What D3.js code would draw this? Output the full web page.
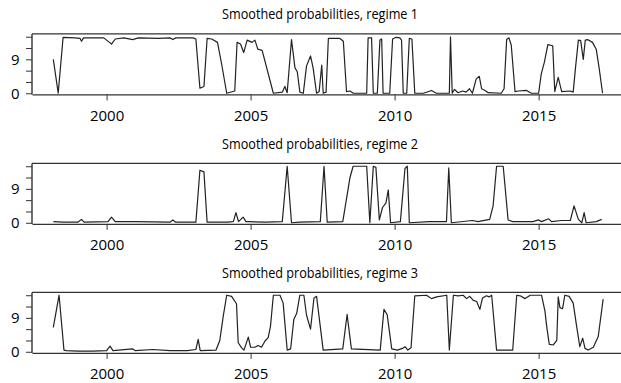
<!DOCTYPE html>
<html><head><meta charset="utf-8">
<script src="https://cdn.jsdelivr.net/npm/d3@7"></script>
<style>
html,body{margin:0;padding:0;background:#fff;}
svg{display:block;font-family:"Open Sans","Noto Sans",sans-serif;}
</style></head>
<body>
<svg id="chart" width="621" height="383"></svg>
<script>
// ---- data (decimal years, smoothed probabilities) ----
const titles = ["Smoothed probabilities, regime 1","Smoothed probabilities, regime 2","Smoothed probabilities, regime 3"];
const xTicks = [2000, 2005, 2010, 2015];
const yTicks = [0, 0.2, 0.4, 0.6, 0.8, 1.0];
const yTickLabels = ["0", "", "", "9", "", ""];

const dates1 = [1998.15,1998.32,1998.49,1998.9,1999.08,1999.13,1999.2,1999.9,2000.1,2000.17,2000.3,2000.6,2000.91,2001.1,2001.8,2002.2,2002.3,2002.4,2003.0,2003.1,2003.24,2003.38,2003.49,2003.65,2003.85,2004.0,2004.17,2004.45,2004.53,2004.65,2004.76,2004.88,2005.05,2005.15,2005.25,2005.4,2005.79,2006.1,2006.19,2006.27,2006.42,2006.54,2006.62,2006.71,2006.83,2006.94,2007.08,2007.17,2007.29,2007.38,2007.47,2007.52,2007.62,2007.7,2008.1,2008.22,2008.33,2008.45,2008.57,2009.03,2009.08,2009.2,2009.26,2009.4,2009.49,2009.55,2009.6,2009.83,2009.93,2010.05,2010.18,2010.24,2010.3,2010.42,2010.51,2010.6,2010.7,2011.0,2011.28,2011.45,2011.9,2011.94,2012.0,2012.08,2012.2,2012.36,2012.48,2012.6,2012.7,2012.83,2012.94,2013.02,2013.14,2013.25,2013.7,2013.8,2013.89,2013.97,2014.05,2014.18,2014.3,2014.58,2014.75,2015.0,2015.09,2015.2,2015.32,2015.49,2015.56,2015.68,2015.8,2016.1,2016.2,2016.28,2016.38,2016.46,2016.55,2016.62,2016.7,2016.87,2017.0,2017.1,2017.22];
const regime1 = [0.60,0.00,0.99,0.98,0.97,0.92,0.98,0.98,0.90,0.87,0.96,0.98,0.95,0.98,0.97,0.98,0.95,0.98,0.98,0.96,0.09,0.12,0.97,0.96,0.90,0.50,0.00,0.04,0.90,0.87,0.72,0.94,0.90,0.94,0.78,0.76,0.00,0.02,0.12,0.01,0.95,0.45,0.38,0.02,0.00,0.48,0.66,0.45,0.00,0.03,0.50,0.00,0.02,0.97,0.97,0.92,0.03,0.04,0.00,0.00,0.98,0.98,0.00,0.00,0.94,0.96,0.00,0.00,0.96,0.99,0.98,0.94,0.00,0.00,0.97,0.96,0.00,0.00,0.05,0.00,0.00,1.00,0.00,0.07,0.01,0.04,0.02,0.08,0.00,0.25,0.30,0.08,0.05,0.01,0.00,0.08,0.95,0.98,0.85,0.03,0.04,0.05,0.00,0.00,0.34,0.55,0.86,0.84,0.03,0.28,0.03,0.04,0.02,0.45,0.94,0.93,0.60,0.94,0.95,0.90,0.78,0.45,0.00];

const dates2 = [1998.15,1998.5,1999.0,1999.13,1999.22,2000.05,2000.17,2000.3,2001.0,2002.2,2002.3,2002.4,2003.1,2003.24,2003.38,2003.49,2004.2,2004.4,2004.49,2004.58,2004.74,2004.84,2004.95,2005.5,2006.1,2006.27,2006.42,2006.7,2007.42,2007.55,2007.66,2008.2,2008.45,2008.56,2009.03,2009.14,2009.26,2009.35,2009.47,2009.58,2009.7,2009.78,2009.86,2010.2,2010.36,2010.44,2010.51,2011.2,2011.8,2011.88,2011.97,2012.7,2012.9,2013.3,2013.42,2013.54,2013.77,2013.94,2014.1,2014.8,2015.0,2015.1,2015.35,2015.45,2015.8,2016.1,2016.23,2016.38,2016.5,2016.58,2016.65,2017.0,2017.19];
const regime2 = [0.02,0.01,0.01,0.06,0.01,0.02,0.10,0.02,0.02,0.01,0.05,0.01,0.01,0.93,0.90,0.01,0.01,0.02,0.18,0.02,0.10,0.02,0.02,0.01,0.02,1.00,0.00,0.01,0.02,1.00,0.01,0.02,0.80,1.00,1.00,0.00,1.00,0.98,0.05,0.27,0.35,0.58,0.00,0.02,0.96,1.00,0.00,0.02,0.02,0.97,0.00,0.04,0.02,0.06,0.30,1.00,1.00,0.05,0.02,0.02,0.05,0.02,0.07,0.02,0.04,0.04,0.30,0.06,0.00,0.18,0.00,0.02,0.06];

const dates3 = [1998.15,1998.35,1998.52,1998.6,1999.0,1999.5,2000.0,2000.12,2000.22,2000.91,2001.0,2001.6,2002.2,2002.8,2003.1,2003.18,2003.25,2003.8,2003.93,2004.05,2004.17,2004.34,2004.51,2004.57,2004.69,2004.77,2004.92,2005.0,2005.15,2005.26,2005.38,2005.5,2005.61,2005.69,2005.79,2006.02,2006.13,2006.27,2006.39,2006.5,2006.6,2006.71,2006.85,2006.94,2007.08,2007.2,2007.29,2007.52,2008.2,2008.35,2008.5,2009.5,2009.63,2009.74,2009.9,2010.1,2010.27,2010.36,2010.46,2010.57,2010.7,2011.11,2011.28,2011.46,2011.81,2011.9,2012.04,2012.21,2012.38,2012.5,2012.61,2012.73,2012.85,2012.96,2013.05,2013.19,2013.28,2013.37,2013.54,2014.1,2014.24,2014.36,2014.53,2014.71,2015.1,2015.22,2015.28,2015.37,2015.51,2015.63,2015.68,2015.74,2015.83,2015.91,2016.06,2016.2,2016.32,2016.43,2016.53,2016.61,2016.72,2016.9,2017.07,2017.24];
const regime3 = [0.43,1.00,0.03,0.02,0.01,0.01,0.02,0.10,0.02,0.05,0.02,0.04,0.02,0.02,0.04,0.22,0.02,0.03,0.20,0.63,1.00,0.98,0.85,0.16,0.07,0.03,0.26,0.08,0.08,0.11,0.08,0.19,0.25,0.45,1.00,1.00,0.86,0.03,0.05,0.57,0.68,1.00,1.00,0.65,0.40,0.95,0.98,0.03,0.05,0.66,0.05,0.03,0.75,0.66,0.05,0.03,0.06,0.09,0.03,0.07,0.99,1.00,0.94,0.97,1.00,0.03,1.00,0.99,1.00,0.94,0.98,0.91,0.89,0.75,0.95,0.99,0.97,1.00,0.03,0.03,1.00,0.99,0.94,1.00,1.00,0.72,0.45,0.13,0.12,0.20,0.97,0.78,0.76,1.00,0.98,0.86,0.45,0.09,0.24,0.06,0.03,0.08,0.27,0.93];

const panels = [
  {title: titles[0], dates: dates1, values: regime1},
  {title: titles[1], dates: dates2, values: regime2},
  {title: titles[2], dates: dates3, values: regime3}
];
const offsets = [0, 129.5, 258.5];

// ---- drawing ----
const svg = d3.select("#chart");
const left = 32, right = 621;
const x = d3.scaleLinear().domain([1997.41, 2017.86]).range([left, right]);

panels.forEach((p, i) => {
  const dy = offsets[i];
  const y = d3.scaleLinear().domain([-0.02, 1.05]).range([94.4 + dy, 33.9 + dy]);
  const g = svg.append("g");

  g.append("text")
    .attr("x", 320).attr("y", 19 + dy)
    .attr("text-anchor", "middle")
    .attr("font-size", 15)
    .attr("textLength", 196).attr("lengthAdjust", "spacingAndGlyphs")
    .attr("fill", "#000")
    .text(p.title);

  // box lines (left, top, bottom)
  const bc = "#333";
  g.append("line").attr("x1", left).attr("x2", right).attr("y1", y(1.05)).attr("y2", y(1.05)).attr("stroke", bc).attr("stroke-width", 1.4);
  g.append("line").attr("x1", left).attr("x2", left).attr("y1", y(1.05)).attr("y2", y(-0.02)).attr("stroke", bc).attr("stroke-width", 1.4);

  // x axis
  const xa = g.append("g").attr("transform", `translate(0,${y(-0.02)})`)
    .call(d3.axisBottom(x).tickValues(xTicks).tickFormat(d3.format("d")).tickSize(6).tickSizeOuter(0));
  xa.select(".domain").attr("stroke", bc).attr("stroke-width", 1.4);
  xa.selectAll(".tick line").attr("stroke", bc);
  xa.selectAll(".tick text").attr("dy", null).attr("y", 26.3)
    .attr("font-size", 15).attr("font-family", '"Open Sans",sans-serif').attr("fill", "#000");

  // y axis
  const ya = g.append("g").attr("transform", `translate(${left},0)`)
    .call(d3.axisLeft(y).tickValues(yTicks).tickFormat((d, k) => yTickLabels[k]).tickSize(6).tickPadding(6.5));
  ya.select(".domain").remove();
  ya.selectAll(".tick line").attr("stroke", bc);
  ya.selectAll(".tick text").attr("font-size", 15).attr("font-family", '"Open Sans",sans-serif').attr("fill", "#000");

  // series line
  const pts = p.dates.map((d, k) => [d, p.values[k]]);
  g.append("path").datum(pts)
    .attr("fill", "none").attr("stroke", "#222").attr("stroke-width", 1.2)
    .attr("stroke-linejoin", "round")
    .attr("d", d3.line().x(d => x(d[0])).y(d => y(d[1])));
});
</script>
</body></html>
